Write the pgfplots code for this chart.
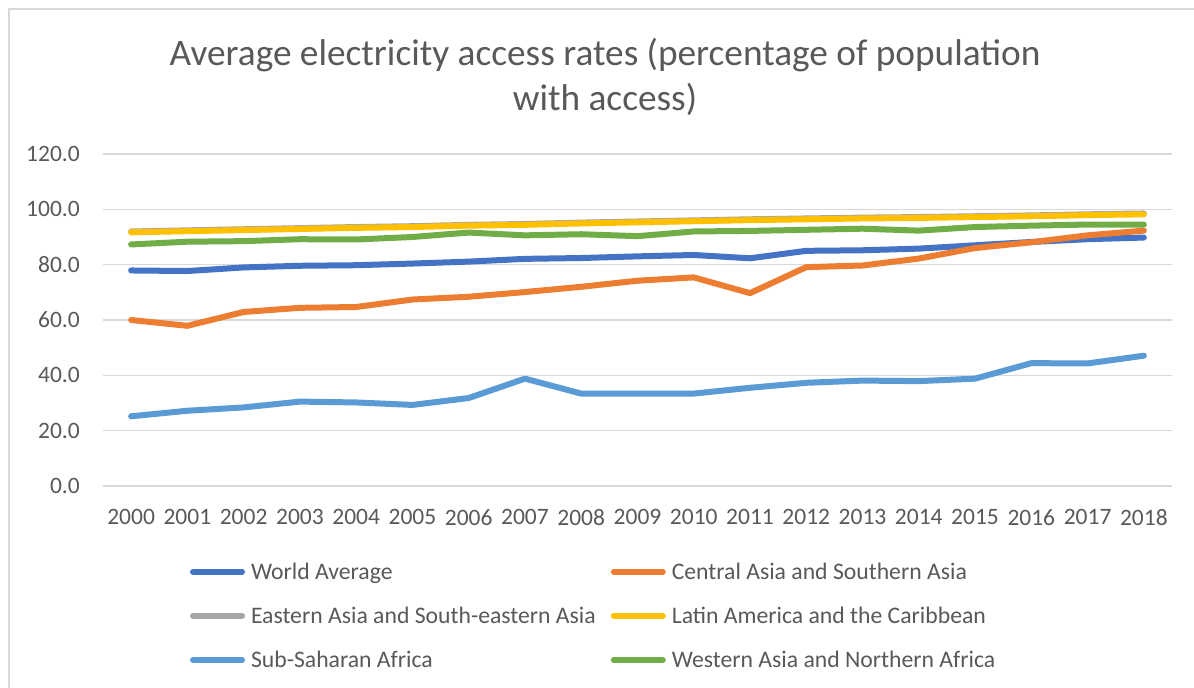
\documentclass[border=0pt]{standalone}
\usepackage{fontspec}
\setmainfont{Carlito}
\usepackage{pgfplots}
\usepackage{pgfplotstable}
\pgfplotsset{compat=1.18}

\definecolor{txt}{HTML}{595959}
\definecolor{gridc}{HTML}{D9D9D9}
\definecolor{cWorld}{HTML}{4472C4}
\definecolor{cCSA}{HTML}{ED7D31}
\definecolor{cESA}{HTML}{A5A5A5}
\definecolor{cLAC}{HTML}{FFC000}
\definecolor{cSSA}{HTML}{5B9BD5}
\definecolor{cWANA}{HTML}{70AD47}

% Electricity access, % of population
\pgfplotstableread{
year world csa  esa  lac  ssa  wana
2000 77.9 60.0 92.0 91.7 25.2 87.3
2001 77.7 57.9 92.4 92.1 27.2 88.3
2002 79.0 62.9 92.8 92.5 28.4 88.5
2003 79.6 64.4 93.2 92.9 30.5 89.2
2004 79.8 64.7 93.6 93.3 30.2 89.1
2005 80.4 67.4 93.9 93.6 29.3 90.0
2006 81.1 68.4 94.4 94.1 31.8 91.6
2007 82.1 70.1 94.7 94.4 38.8 90.6
2008 82.4 72.0 95.2 94.9 33.4 91.0
2009 83.0 74.2 95.6 95.3 33.4 90.3
2010 83.5 75.4 96.0 95.7 33.4 92.0
2011 82.3 69.7 96.4 96.1 35.5 92.2
2012 85.0 79.1 96.7 96.4 37.3 92.6
2013 85.2 79.7 97.0 96.7 38.1 93.0
2014 85.8 82.2 97.2 96.9 37.9 92.3
2015 87.0 86.0 97.5 97.2 38.8 93.6
2016 88.2 88.1 97.8 97.5 44.4 94.1
2017 89.2 90.6 98.2 97.9 44.3 94.5
2018 89.8 92.3 98.5 98.2 47.1 94.5
}\access

\begin{document}
\begin{tikzpicture}
\useasboundingbox (0pt,0pt) rectangle (1194pt,688pt);
\fill[white] (0pt,0pt) rectangle (1194pt,688pt);
% chart area border
\draw[gridc, line width=1.5pt] (9pt,0pt) -- (9pt,679pt) -- (1194pt,679pt);
% title
\node[txt, font=\fontsize{37.3}{45}\selectfont, anchor=base, inner sep=0pt]
  at (605pt,622pt) {Average electricity access rates (percentage of population};
\node[txt, font=\fontsize{37.3}{45}\selectfont, anchor=base, inner sep=0pt]
  at (605pt,577pt) {with access)};

\begin{axis}[
  at={(103pt,202pt)}, anchor=south west,
  scale only axis, width=1069pt, height=332pt,
  xmin=1999.5, xmax=2018.5, ymin=0, ymax=120,
  xtick={2000,2001,...,2018}, ytick={0,20,...,120},
  ymajorgrids, grid style={gridc, line width=1.5pt},
  axis line style={draw=none},
  major tick length=0pt,
  tick label style={txt, font=\fontsize{23.5}{28}\selectfont, inner sep=0pt,
    /pgf/number format/assume math mode=true},
  yticklabel style={xshift=-23pt, /pgf/number format/.cd, fixed, fixed zerofill, precision=1},
  xticklabel style={yshift=-23pt, /pgf/number format/1000 sep={}},
  every axis plot/.append style={line width=6pt, line cap=round, line join=round},
  legend columns=2,
  legend cell align=left,
  legend image code/.code={%
    \path[draw=none, fill=none] (0pt,0pt) rectangle (55pt,8pt);
    \draw[#1, line width=6pt, line cap=round] (3pt,-1pt) -- (52pt,-1pt);},
  legend style={at={(0.0814,-0.223)}, anchor=north west, draw=none, fill=none,
    inner sep=0pt, outer sep=0pt, row sep=23pt,
    font=\fontsize{23.7}{28}\selectfont, text=txt,
    nodes={inner sep=0pt, outer sep=0pt},
    /tikz/every odd column/.append style={column sep=6pt},
    /tikz/every even column/.append style={column sep=15pt}},
]
\addplot[cWorld] table[x=year, y=world] {\access};
\addlegendentry{\strut World Average}
\addplot[cCSA] table[x=year, y=csa] {\access};
\addlegendentry{\strut Central Asia and Southern Asia}
\addplot[cESA] table[x=year, y=esa] {\access};
\addlegendentry{\strut Eastern Asia and South-eastern Asia}
\addplot[cLAC] table[x=year, y=lac] {\access};
\addlegendentry{\strut Latin America and the Caribbean}
\addplot[cSSA] table[x=year, y=ssa] {\access};
\addlegendentry{\strut Sub-Saharan Africa}
\addplot[cWANA] table[x=year, y=wana] {\access};
\addlegendentry{\strut Western Asia and Northern Africa}
\end{axis}
\end{tikzpicture}
\end{document}
